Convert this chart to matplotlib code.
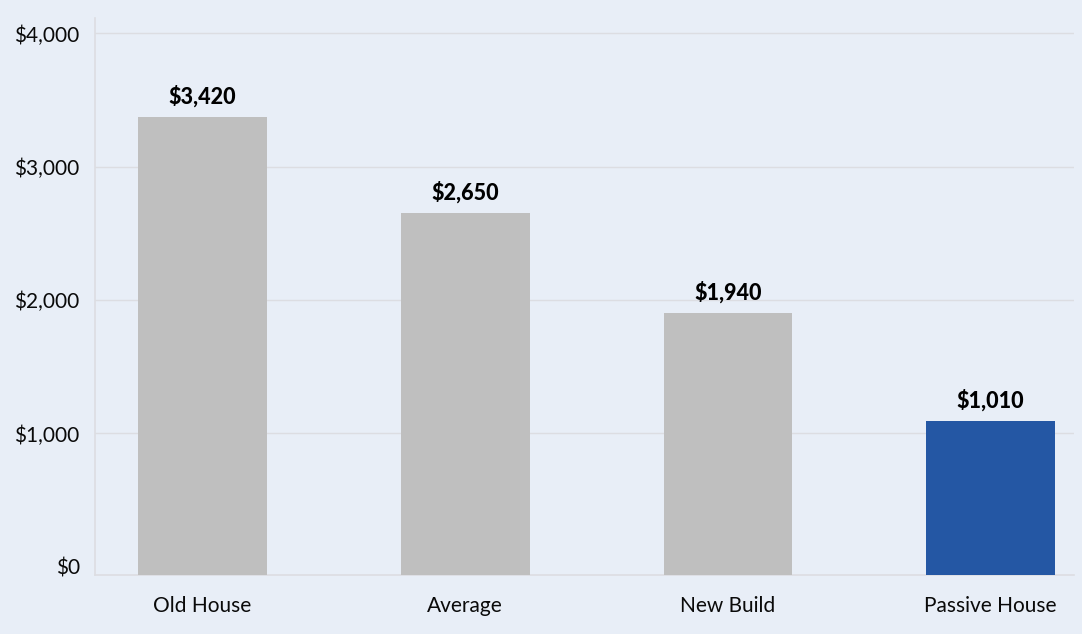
import matplotlib.pyplot as plt
from matplotlib.ticker import FuncFormatter

plt.rcParams["font.family"] = ["Lato", "DejaVu Sans"]

categories = ["Old House", "Average", "New Build", "Passive House"]
bar_values = [3370, 2650, 1900, 1090]
value_labels = ["$3,420", "$2,650", "$1,940", "$1,010"]
bar_colors = ["#bfbfbf", "#bfbfbf", "#bfbfbf", "#2457a4"]
yticks = [0, 1000, 2000, 3000, 4000]

bg = "#e8eef7"
ymin, ymax = -60, 4116

fig = plt.figure(figsize=(10.82, 6.34), dpi=100, facecolor=bg)
ax = fig.add_axes([0.0878, 0.0935, 0.9048, 0.8781], facecolor=bg)

x = range(len(categories))
ax.bar(x, [v - ymin for v in bar_values], bottom=ymin, width=0.49,
       color=bar_colors, zorder=3)

for i, (v, lab) in enumerate(zip(bar_values, value_labels)):
    ax.annotate(lab, (i, v), xytext=(0, 21), textcoords="offset pixels",
                ha="center", va="center", fontsize=15.5, fontweight=900,
                color="black")

ax.set_xlim(-0.409, 3.317)
ax.set_ylim(ymin, ymax)
ax.set_yticks(yticks)
ax.yaxis.set_major_formatter(FuncFormatter(lambda v, p: f"${v:,.0f}"))
ax.set_xticks(list(x))
ax.set_xticklabels(categories)
ax.tick_params(axis="both", length=0, labelsize=15, colors="#0a0a0a")
ax.tick_params(axis="y", pad=11)
ax.tick_params(axis="x", pad=15)

ax.grid(axis="y", color="#dcdde2", linewidth=1, zorder=0)
ax.yaxis.get_gridlines()[0].set_visible(False)
for s in ["top", "right"]:
    ax.spines[s].set_visible(False)
for s in ["left", "bottom"]:
    ax.spines[s].set_color("#dcdde2")
    ax.spines[s].set_linewidth(1.2)

fig.savefig("out.png", dpi=100, facecolor=bg)
